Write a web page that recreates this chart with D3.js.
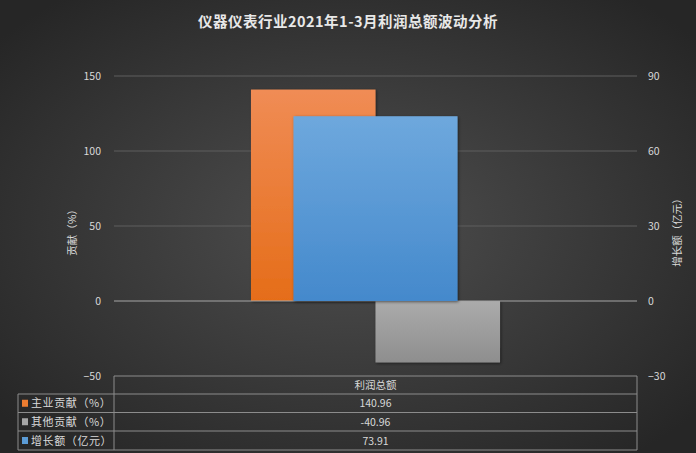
<!DOCTYPE html>
<html>
<head>
<meta charset="utf-8">
<script src="https://cdn.jsdelivr.net/npm/d3@7"></script>
<style>
  html, body { margin: 0; padding: 0; background: #333; }
  svg { display: block; font-family: "Noto Sans CJK SC", "Noto Sans", sans-serif; }
</style>
</head>
<body>
<svg id="chart" width="696" height="453"></svg>
<script>
const title = '仪器仪表行业2021年1-3月利润总额波动分析';
const categories = ['利润总额'];
const primarySeries = ['主业贡献（%）', '其他贡献（%）'];
const primaryValues = [140.96, -40.96];
const secondarySeries = '增长额（亿元）';
const secondaryValues = [73.91];
const leftTicks = [-50, 0, 50, 100, 150];
const rightTicks = [-30, 0, 30, 60, 90];
const colors = ['#ed7d31', '#a5a5a5', '#5b9bd5'];

const width = 696;
const height = 453;
const plot = { left: 114, right: 637, top: 76, bottom: 376 };
const svg = d3.select('#chart');
const defs = svg.append('defs');

// background
const bg = defs.append('radialGradient').attr('id', 'bg')
  .attr('cx', '50%').attr('cy', '50%').attr('r', '65%');
bg.append('stop').attr('offset', '0%').attr('stop-color', '#4f4f4f');
bg.append('stop').attr('offset', '100%').attr('stop-color', '#262626');
svg.append('rect').attr('width', width).attr('height', height).attr('fill', 'url(#bg)');

function barGradient(id, top, bottom) {
  const g = defs.append('linearGradient').attr('id', id)
    .attr('x1', 0).attr('y1', 0).attr('x2', 0).attr('y2', 1);
  g.append('stop').attr('offset', '0%').attr('stop-color', top);
  g.append('stop').attr('offset', '100%').attr('stop-color', bottom);
}
barGradient('g0', '#f08c55', '#e56d19');
barGradient('g1', '#ababab', '#8e8e8e');
barGradient('g2', '#6ea8dd', '#4489cc');

const shadow = defs.append('filter').attr('id', 'shadow')
  .attr('x', '-10%').attr('y', '-10%').attr('width', '130%').attr('height', '130%');
shadow.append('feDropShadow').attr('dx', 1).attr('dy', 1).attr('stdDeviation', 1.5)
  .attr('flood-color', '#000').attr('flood-opacity', 0.5);

const yLeft = d3.scaleLinear().domain([-50, 150]).range([plot.bottom, plot.top]);
const yRight = d3.scaleLinear().domain([-30, 90]).range([plot.bottom, plot.top]);

const x0 = d3.scaleBand().domain(categories).range([plot.left, plot.right]).paddingOuter(0.55);
const x1 = d3.scaleBand().domain(primarySeries).range([0, x0.bandwidth()]);
const xSec = d3.scaleBand().domain(categories).range([plot.left, plot.right]).paddingOuter(1.094);

// title
svg.append('text')
  .attr('x', width / 2).attr('y', 27)
  .attr('text-anchor', 'middle')
  .attr('fill', '#e8e8e8')
  .attr('font-size', 14.5)
  .attr('font-weight', 'bold')
  .attr('letter-spacing', 0.5)
  .text(title);

// grid
svg.append('g')
  .selectAll('line')
  .data(leftTicks.filter((t) => t > 0))
  .join('line')
  .attr('x1', plot.left).attr('x2', plot.right)
  .attr('y1', (d) => yLeft(d)).attr('y2', (d) => yLeft(d))
  .attr('stroke', '#5e5e5e').attr('stroke-width', 1);

// axes
const leftAxis = svg.append('g')
  .attr('transform', `translate(${plot.left - 13},0)`)
  .call(d3.axisLeft(yLeft).tickValues(leftTicks).tickSize(0).tickPadding(0));
const rightAxis = svg.append('g')
  .attr('transform', `translate(${plot.right + 11},0)`)
  .call(d3.axisRight(yRight).tickValues(rightTicks).tickSize(0).tickPadding(0));
[leftAxis, rightAxis].forEach((a) => {
  a.select('.domain').remove();
  a.selectAll('text').attr('fill', '#d9d9d9').attr('font-size', 10.5)
    .attr('font-family', '"Noto Sans CJK SC", sans-serif');
});

// axis titles
svg.append('text')
  .attr('transform', 'translate(76,230) rotate(-90)')
  .attr('text-anchor', 'middle')
  .attr('fill', '#d9d9d9').attr('font-size', 10.5)
  .text('贡献（%）');
svg.append('text')
  .attr('transform', 'translate(681,230) rotate(-90)')
  .attr('text-anchor', 'middle')
  .attr('fill', '#d9d9d9').attr('font-size', 10.5)
  .text('增长额（亿元）');

// primary bars
const primaryData = primarySeries.map((name, i) => ({ name, value: primaryValues[i], i }));
svg.append('g')
  .selectAll('rect')
  .data(primaryData)
  .join('rect')
  .attr('x', (d) => x0(categories[0]) + x1(d.name))
  .attr('width', x1.bandwidth())
  .attr('y', (d) => yLeft(Math.max(0, d.value)))
  .attr('height', (d) => Math.abs(yLeft(d.value) - yLeft(0)))
  .attr('fill', (d) => `url(#g${d.i})`)
  .attr('filter', 'url(#shadow)');

// zero line
svg.append('line')
  .attr('x1', plot.left).attr('x2', plot.right)
  .attr('y1', yLeft(0)).attr('y2', yLeft(0))
  .attr('stroke', '#a6a6a6').attr('stroke-width', 1);

// secondary bars
svg.append('g')
  .selectAll('rect')
  .data(categories.map((c, i) => ({ c, value: secondaryValues[i] })))
  .join('rect')
  .attr('x', (d) => xSec(d.c))
  .attr('width', xSec.bandwidth())
  .attr('y', (d) => yRight(Math.max(0, d.value)))
  .attr('height', (d) => Math.abs(yRight(d.value) - yRight(0)))
  .attr('fill', 'url(#g2)')
  .attr('filter', 'url(#shadow)');

// data table
const tableLeft = 18;
const rowTops = [376, 394, 412.5, 431, 450];
const rowNames = [...primarySeries, secondarySeries];
const rowValues = [...primaryValues, ...secondaryValues];
const table = svg.append('g').attr('fill', 'none').attr('stroke', '#8c8c8c').attr('stroke-width', 1);

table.append('path')
  .attr('d', `M${plot.left},${rowTops[4]}V${rowTops[0]}H${plot.right}V${rowTops[4]}`);
table.selectAll('.h')
  .data(rowTops.slice(1))
  .join('line')
  .attr('x1', tableLeft).attr('x2', plot.right)
  .attr('y1', (d) => d).attr('y2', (d) => d);
table.append('line')
  .attr('x1', tableLeft).attr('x2', tableLeft)
  .attr('y1', rowTops[1]).attr('y2', rowTops[4]);

const cx = (plot.left + plot.right) / 2;
svg.append('text')
  .attr('x', cx).attr('y', (rowTops[0] + rowTops[1]) / 2 + 4)
  .attr('text-anchor', 'middle').attr('fill', '#d9d9d9').attr('font-size', 10.5)
  .text(categories[0]);

const rows = svg.append('g').selectAll('g')
  .data(rowNames.map((name, i) => ({ name, value: rowValues[i], i })))
  .join('g')
  .attr('transform', (d) => `translate(0,${(rowTops[d.i + 1] + rowTops[d.i + 2]) / 2})`);

rows.append('rect')
  .attr('x', 22).attr('y', -3.5).attr('width', 6).attr('height', 7)
  .attr('fill', (d) => colors[d.i]);
rows.append('text')
  .attr('x', 31).attr('y', 4)
  .attr('fill', '#d9d9d9').attr('font-size', 11)
  .attr('letter-spacing', 0.6)
  .text((d) => d.name);
rows.append('text')
  .attr('x', cx).attr('y', 4)
  .attr('text-anchor', 'middle')
  .attr('fill', '#d9d9d9').attr('font-size', 10.5)
  .text((d) => d.value.toFixed(2));
</script>
</body>
</html>
